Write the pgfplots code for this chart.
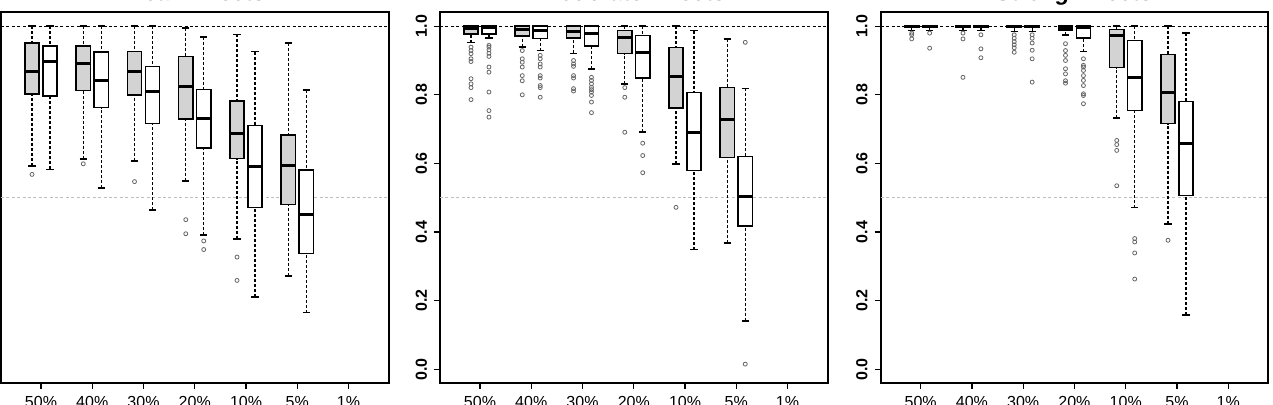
\documentclass[border=0pt]{standalone}
\usepackage{pgfplots}
\pgfplotsset{compat=1.18}
\usepgfplotslibrary{statistics}
\usepackage{fontspec}
\setmainfont{Liberation Sans}
\definecolor{boxgray}{RGB}{211,211,211}
\definecolor{refgray}{RGB}{190,190,190}
\pgfplotsset{
  panel/.style={
    scale only axis, width=193.75pt, height=185.25pt, anchor=south west,
    xmin=0.22, xmax=7.78, ymin=-0.04, ymax=1.04,
    xtick={1,2,3,4,5,6,7}, xticklabels={50\%,40\%,30\%,20\%,10\%,5\%,1\%},
    ytick={0,0.2,0.4,0.6,0.8,1}, yticklabels={0.0,0.2,0.4,0.6,0.8,1.0},
    tick align=outside, tick pos=left, major tick length=3pt,
    axis line style={line width=1pt},
    every tick/.style={black, line width=0.6pt},
    xticklabel style={font=\fontsize{8}{9}\selectfont},
    yticklabel style={rotate=90, anchor=south, font=\bfseries\fontsize{8}{9}\selectfont},
    every axis title/.style={at={(0.5,1)}, anchor=base, yshift=5.8pt,
      font=\bfseries\itshape\fontsize{11.5}{13}\selectfont},
    boxplot/draw direction=y,
  },
  bxs/.style={draw=black, line width=0.75pt, solid, mark=o, mark size=1pt,
    mark options={draw=black!60, line width=0.4pt, fill=none, solid},
    boxplot/box extend=0.28, boxplot/whisker extend=0.14,
    boxplot/every median/.style={line width=1.5pt},
    boxplot/draw/lower whisker/.code={%
      \draw[dash pattern=on 1.5pt off 1pt, line width=0.6pt]
        (boxplot cs:\pgfplotsboxplotvalue{lower whisker}) -- (boxplot cs:\pgfplotsboxplotvalue{lower quartile});
      \draw[solid, line width=0.75pt]
        (boxplot whisker cs:\pgfplotsboxplotvalue{lower whisker},0) -- (boxplot whisker cs:\pgfplotsboxplotvalue{lower whisker},1);
    },
    boxplot/draw/upper whisker/.code={%
      \draw[dash pattern=on 1.5pt off 1pt, line width=0.6pt]
        (boxplot cs:\pgfplotsboxplotvalue{upper whisker}) -- (boxplot cs:\pgfplotsboxplotvalue{upper quartile});
      \draw[solid, line width=0.75pt]
        (boxplot whisker cs:\pgfplotsboxplotvalue{upper whisker},0) -- (boxplot whisker cs:\pgfplotsboxplotvalue{upper whisker},1);
    },
  },
}
% #1 fill, #2 position, #3 lower whisker, #4 lower quartile, #5 median, #6 upper quartile, #7 upper whisker, #8 outliers
\newcommand\bx[8]{\addplot[bxs, fill=#1, boxplot prepared={draw position=#2, lower whisker=#3, lower quartile=#4, median=#5, upper quartile=#6, upper whisker=#7}] coordinates {#8};}
\newcommand\refs{%
  \addplot[refgray, line width=0.6pt, dash pattern=on 1.5pt off 1.2pt] coordinates {(0.22,0.5) (7.78,0.5)};
  \addplot[black, line width=0.6pt, dash pattern=on 1.5pt off 1.2pt] coordinates {(0.22,1) (7.78,1)};
}
\begin{document}
\begin{tikzpicture}
\useasboundingbox (0,0) rectangle (636.5pt,202.5pt);
\clip (0,0) rectangle (636.5pt,202.5pt);
% ---------------- Weak Effects
\begin{axis}[panel, at={(0.5pt,11pt)}, title={Weak Effects}]
\refs
\bx{boxgray}{0.825}{0.593}{0.802}{0.868}{0.951}{1.0}{(0,0.568)}
\bx{white}{1.175}{0.583}{0.797}{0.896}{0.943}{1.0}{}
\bx{boxgray}{1.825}{0.613}{0.812}{0.890}{0.943}{1.0}{(0,0.599)}
\bx{white}{2.175}{0.528}{0.763}{0.841}{0.925}{1.0}{}
\bx{boxgray}{2.825}{0.607}{0.799}{0.868}{0.927}{1.0}{(0,0.547)}
\bx{white}{3.175}{0.464}{0.716}{0.810}{0.883}{1.0}{}
\bx{boxgray}{3.825}{0.549}{0.729}{0.825}{0.911}{0.995}{(0,0.436) (0,0.395)}
\bx{white}{4.175}{0.391}{0.645}{0.730}{0.816}{0.969}{(0,0.374) (0,0.349)}
\bx{boxgray}{4.825}{0.380}{0.614}{0.686}{0.782}{0.976}{(0,0.327) (0,0.259)}
\bx{white}{5.175}{0.211}{0.471}{0.591}{0.711}{0.926}{}
\bx{boxgray}{5.825}{0.272}{0.480}{0.594}{0.683}{0.951}{}
\bx{white}{6.175}{0.165}{0.338}{0.450}{0.581}{0.814}{}
\end{axis}
% ---------------- Moderate Effects
\begin{axis}[panel, at={(220pt,11pt)}, title={Moderate Effects}]
\refs
\bx{boxgray}{0.825}{0.952}{0.978}{0.994}{1.0}{1.0}{(0,0.939) (0,0.929) (0,0.920) (0,0.905) (0,0.897) (0,0.847) (0,0.832) (0,0.821) (0,0.786)}
\bx{white}{1.175}{0.965}{0.978}{0.997}{1.0}{1.0}{(0,0.944) (0,0.939) (0,0.931) (0,0.921) (0,0.912) (0,0.881) (0,0.866) (0,0.808) (0,0.754) (0,0.735)}
\bx{boxgray}{1.825}{0.939}{0.971}{0.990}{1.0}{1.0}{(0,0.929) (0,0.905) (0,0.895) (0,0.881) (0,0.856) (0,0.841) (0,0.800)}
\bx{white}{2.175}{0.929}{0.964}{0.987}{1.0}{1.0}{(0,0.915) (0,0.905) (0,0.890) (0,0.881) (0,0.856) (0,0.849) (0,0.827) (0,0.821) (0,0.793)}
\bx{boxgray}{2.825}{0.921}{0.965}{0.985}{1.0}{1.0}{(0,0.900) (0,0.890) (0,0.883) (0,0.856) (0,0.849) (0,0.818) (0,0.811)}
\bx{white}{3.175}{0.876}{0.942}{0.978}{1.0}{1.0}{(0,0.851) (0,0.842) (0,0.832) (0,0.822) (0,0.815) (0,0.808) (0,0.798) (0,0.779) (0,0.748)}
\bx{boxgray}{3.825}{0.832}{0.920}{0.968}{0.987}{1.0}{(0,0.821) (0,0.793) (0,0.691)}
\bx{white}{4.175}{0.691}{0.849}{0.924}{0.973}{1.0}{(0,0.659) (0,0.623) (0,0.573)}
\bx{boxgray}{4.825}{0.599}{0.761}{0.853}{0.938}{1.0}{(0,0.472)}
\bx{white}{5.175}{0.349}{0.579}{0.691}{0.807}{0.987}{}
\bx{boxgray}{5.825}{0.368}{0.618}{0.728}{0.821}{0.963}{}
\bx{white}{6.175}{0.141}{0.417}{0.504}{0.620}{0.819}{(0,0.953) (0,0.015)}
\end{axis}
% ---------------- Strong Effects
\begin{axis}[panel, at={(440.35pt,11pt)}, title={Strong Effects}]
\refs
\bx{boxgray}{0.825}{0.988}{0.997}{1.0}{1.0}{1.0}{(0,0.980) (0,0.975) (0,0.963)}
\bx{white}{1.175}{0.988}{0.997}{1.0}{1.0}{1.0}{(0,0.980) (0,0.936)}
\bx{boxgray}{1.825}{0.988}{0.997}{1.0}{1.0}{1.0}{(0,0.980) (0,0.963) (0,0.851)}
\bx{white}{2.175}{0.988}{0.997}{1.0}{1.0}{1.0}{(0,0.975) (0,0.934) (0,0.908)}
\bx{boxgray}{2.825}{0.985}{0.996}{1.0}{1.0}{1.0}{(0,0.975) (0,0.965) (0,0.955) (0,0.946) (0,0.937) (0,0.924)}
\bx{white}{3.175}{0.985}{0.996}{1.0}{1.0}{1.0}{(0,0.975) (0,0.965) (0,0.951) (0,0.930) (0,0.905) (0,0.837)}
\bx{boxgray}{3.825}{0.975}{0.987}{0.992}{1.0}{1.0}{(0,0.949) (0,0.929) (0,0.915) (0,0.900) (0,0.876) (0,0.861) (0,0.841) (0,0.834)}
\bx{white}{4.175}{0.926}{0.966}{0.997}{1.0}{1.0}{(0,0.905) (0,0.886) (0,0.881) (0,0.871) (0,0.856) (0,0.842) (0,0.827) (0,0.803) (0,0.798) (0,0.774)}
\bx{boxgray}{4.825}{0.732}{0.879}{0.973}{0.990}{1.0}{(0,0.667) (0,0.655) (0,0.638) (0,0.535)}
\bx{white}{5.175}{0.471}{0.754}{0.851}{0.958}{1.0}{(0,0.381) (0,0.371) (0,0.339) (0,0.263)}
\bx{boxgray}{5.825}{0.424}{0.716}{0.806}{0.917}{1.0}{(0,0.376)}
\bx{white}{6.175}{0.158}{0.507}{0.657}{0.781}{0.980}{}
\end{axis}
\end{tikzpicture}
\end{document}
